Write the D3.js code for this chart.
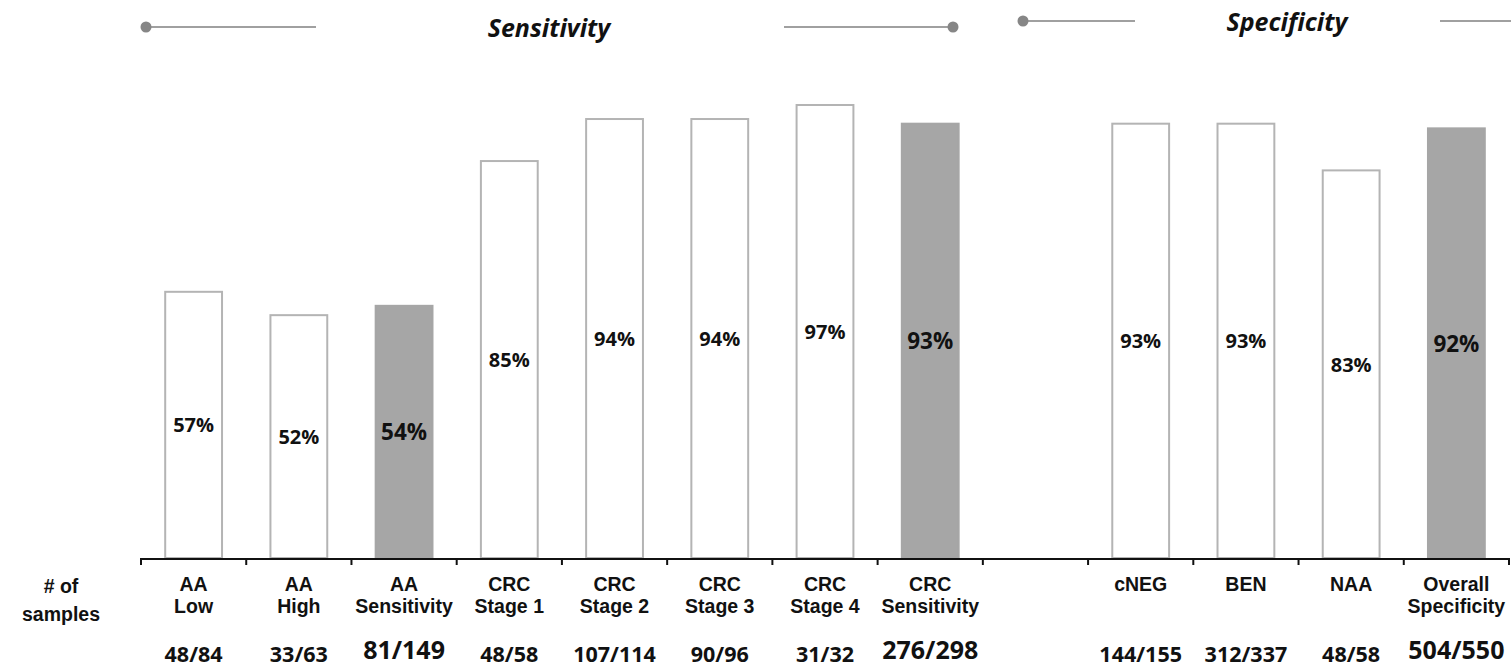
<!DOCTYPE html>
<html>
<head>
<meta charset="utf-8">
<script src="https://cdn.jsdelivr.net/npm/d3@7/dist/d3.min.js"></script>
<style>
  html, body { margin: 0; padding: 0; background: #fff; }
  svg { display: block; }
</style>
</head>
<body>
<svg id="chart" width="1511" height="668"></svg>
<script>
// ---------------- DATA ----------------
const categories = ["AA Low", "AA High", "AA Sensitivity", "CRC Stage 1", "CRC Stage 2", "CRC Stage 3",
                    "CRC Stage 4", "CRC Sensitivity", "", "cNEG", "BEN", "NAA", "Overall Specificity"];
const labelLines = [["AA", "Low"], ["AA", "High"], ["AA", "Sensitivity"], ["CRC", "Stage 1"], ["CRC", "Stage 2"],
                    ["CRC", "Stage 3"], ["CRC", "Stage 4"], ["CRC", "Sensitivity"], [], ["cNEG"], ["BEN"], ["NAA"],
                    ["Overall", "Specificity"]];
const values = [57, 52, 54, 85, 94, 94, 97, 93, null, 93, 93, 83, 92];
const pctLabels = ["57%", "52%", "54%", "85%", "94%", "94%", "97%", "93%", "", "93%", "93%", "83%", "92%"];
const samples = ["48/84", "33/63", "81/149", "48/58", "107/114", "90/96", "31/32", "276/298", "",
                 "144/155", "312/337", "48/58", "504/550"];
const isSummary = [false, false, true, false, false, false, false, true, false, false, false, false, true];
const sectionTitles = ["Sensitivity", "Specificity"];

// ---------------- LAYOUT ----------------
const svg = d3.select("#chart");
const baseY = 558, topY = 91;
const x = d3.scaleBand().domain(d3.range(categories.length)).range([141, 1509]).padding(0);
const y = d3.scaleLinear().domain([0, 100]).range([baseY, topY]);
const barW = x.bandwidth() * 0.54;

const fontNum = "'Open Sans', 'Noto Sans', sans-serif";
const fontCat = "'Liberation Sans', Arial, sans-serif";

// bars
const idx = d3.range(categories.length).filter(i => values[i] != null);
svg.append("g").selectAll("rect").data(idx).join("rect")
  .attr("x", i => x(i) + (x.bandwidth() - barW) / 2)
  .attr("y", i => y(values[i]))
  .attr("width", barW)
  .attr("height", i => y(0) - y(values[i]))
  .attr("fill", i => isSummary[i] ? "#a6a6a6" : "#ffffff")
  .attr("stroke", i => isSummary[i] ? "#a6a6a6" : "#b4b4b4")
  .attr("stroke-width", 2);

// percent labels
svg.append("g").selectAll("text").data(idx).join("text")
  .attr("x", i => x(i) + x.bandwidth() / 2)
  .attr("y", i => (y(values[i]) + y(0)) / 2)
  .attr("text-anchor", "middle")
  .attr("dominant-baseline", "central")
  .attr("font-family", fontNum)
  .attr("font-weight", 700)
  .attr("font-size", i => isSummary[i] ? 22.5 : 20)
  .attr("fill", "#111")
  .text(i => pctLabels[i]);

// axis line + ticks
const ax = svg.append("g");
ax.append("line").attr("x1", x.range()[0]).attr("x2", x.range()[1])
  .attr("y1", baseY + 1).attr("y2", baseY + 1)
  .attr("stroke", "#111").attr("stroke-width", 2);
const tickXs = d3.range(categories.length).map(i => x(i)).concat([x.range()[1]]);
ax.selectAll("line.tick").data(tickXs).join("line").attr("class", "tick")
  .attr("x1", d => d).attr("x2", d => d)
  .attr("y1", baseY).attr("y2", baseY + 7)
  .attr("stroke", "#111").attr("stroke-width", 2);

// category labels
const cat = svg.append("g");
d3.range(categories.length).forEach(i => {
  const t = cat.append("text")
    .attr("x", x(i) + x.bandwidth() / 2)
    .attr("text-anchor", "middle")
    .attr("font-family", fontCat)
    .attr("font-weight", 700)
    .attr("font-size", 19.5)
    .attr("fill", "#111");
  labelLines[i].forEach((ln, k) => {
    t.append("tspan").attr("x", x(i) + x.bandwidth() / 2)
      .attr("y", 591 + k * 22).text(ln);
  });
});

// "# of samples"
const ns = svg.append("text").attr("text-anchor", "middle")
  .attr("font-family", fontCat).attr("font-weight", 700).attr("font-size", 19.5).attr("fill", "#111");
ns.append("tspan").attr("x", 61).attr("y", 593).text("# of");
ns.append("tspan").attr("x", 61).attr("y", 621).text("samples");

// sample counts
svg.append("g").selectAll("text").data(idx).join("text")
  .attr("x", i => x(i) + x.bandwidth() / 2)
  .attr("y", i => isSummary[i] ? 659 : 662)
  .attr("text-anchor", "middle")
  .attr("font-family", fontNum)
  .attr("font-weight", 700)
  .attr("font-size", i => isSummary[i] ? 25 : 21.5)
  .attr("fill", "#111")
  .text(i => samples[i]);

// section headers
const hdr = svg.append("g");
const headerSpecs = [
  { title: sectionTitles[0], cx: 549, cy: 27, lines: [[146, 316], [784, 953]], dots: [146, 953] },
  { title: sectionTitles[1], cx: 1287, cy: 21, lines: [[1023, 1135], [1440, 1511]], dots: [1023] }
];
headerSpecs.forEach(h => {
  h.lines.forEach(l => hdr.append("line")
    .attr("x1", l[0]).attr("x2", l[1]).attr("y1", h.cy).attr("y2", h.cy)
    .attr("stroke", "#808080").attr("stroke-width", 1.5));
  h.dots.forEach(d => hdr.append("circle")
    .attr("cx", d).attr("cy", h.cy).attr("r", 5.5).attr("fill", "#868686"));
  hdr.append("text").attr("x", h.cx).attr("y", h.cy)
    .attr("text-anchor", "middle").attr("dominant-baseline", "central")
    .attr("font-family", fontNum).attr("font-weight", 700).attr("font-style", "italic")
    .attr("font-size", 25).attr("fill", "#111").text(h.title);
});
</script>
</body>
</html>
